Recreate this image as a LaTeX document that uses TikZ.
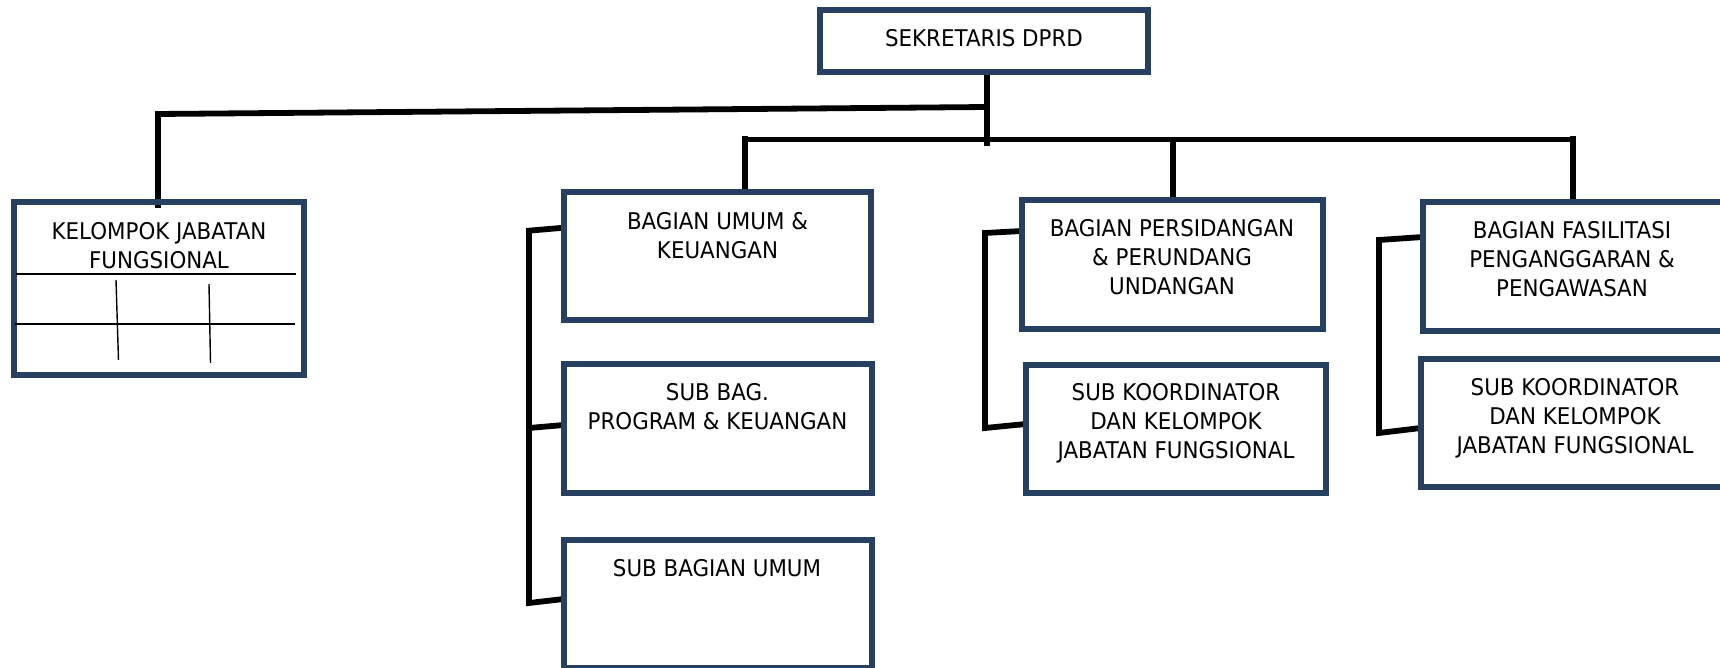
\documentclass[tikz,border=0pt]{standalone}
\usepackage{fontspec}
\setmainfont[FakeStretch=0.93]{DejaVu Sans}
\pgfdeclarelayer{background}
\pgfsetlayers{background,main}
\definecolor{boxblue}{RGB}{37,64,97}
\tikzset{
  orgbox/.style={draw=boxblue, line width=2.8pt, inner sep=0pt, outer sep=0pt, rectangle},
  conn/.style={draw=black, line width=2.9pt, line join=miter},
  thinline/.style={draw=black, line width=0.7pt},
  lbl/.style={anchor=north, inner sep=0pt, outer sep=0pt, align=center, font=\fontsize{11.5}{14.5}\selectfont}
}
\begin{document}
\begin{tikzpicture}[x=0.5pt,y=-0.5pt]
\useasboundingbox (0,0) rectangle (1720,668);
% boxes
\node[orgbox, minimum width=164.2pt, minimum height=31.2pt] (sek) at (984,41) {};
\node[orgbox, minimum width=145.2pt, minimum height=86.7pt] (kel) at (159,288.5) {};
\node[orgbox, minimum width=153.7pt, minimum height=64.2pt] (bum) at (717.5,256) {};
\node[orgbox, minimum width=154.2pt, minimum height=64.7pt] (sbp) at (718,428.5) {};
\node[orgbox, minimum width=154.2pt, minimum height=64.2pt] (sbu) at (718,604) {};
\node[orgbox, minimum width=150.7pt, minimum height=64.7pt] (per) at (1172.5,264.5) {};
\node[orgbox, minimum width=150.2pt, minimum height=64.2pt] (sk1) at (1176,429) {};
\node[orgbox, minimum width=151.2pt, minimum height=64.7pt] (fas) at (1574,266.5) {};
\node[orgbox, minimum width=152.2pt, minimum height=64.2pt] (sk2) at (1573,423) {};
% texts
\node[lbl] (sek-t) at (984,29) {SEKRETARIS DPRD};
\node[lbl] (kel-t) at (159,222) {KELOMPOK JABATAN\\FUNGSIONAL};
\node[lbl] (bum-t) at (717.5,212) {BAGIAN UMUM \&\\KEUANGAN};
\node[lbl] (sbp-t) at (717.5,383) {SUB BAG.\\PROGRAM \& KEUANGAN};
\node[lbl] (sbu-t) at (717,559) {SUB BAGIAN UMUM};
\node[lbl] (per-t) at (1172,219) {BAGIAN PERSIDANGAN\\\& PERUNDANG\\UNDANGAN};
\node[lbl] (sk1-t) at (1176,383) {SUB KOORDINATOR\\DAN KELOMPOK\\JABATAN FUNGSIONAL};
\node[lbl] (fas-t) at (1572,221) {BAGIAN FASILITASI\\PENGANGGARAN \&\\PENGAWASAN};
\node[lbl] (sk2-t) at (1575,378) {SUB KOORDINATOR\\DAN KELOMPOK\\JABATAN FUNGSIONAL};
% table lines inside KELOMPOK box
\draw[thinline] (16,274) -- (296,274);
\draw[thinline] (15,324) -- (295,324);
\draw[thinline] (116,280) -- (118.5,360);
\draw[thinline] (209,284) -- (210.5,363);
% connectors
\coordinate (j1) at (987,146);
\coordinate (u1) at (987,107);
\coordinate (u2) at (158,114);
\coordinate (l1) at (745,139.5);
\coordinate (l2) at (1173,139.5);
\coordinate (l3) at (1573,139.5);
\begin{pgfonlayer}{background}
\draw[conn] (sek.south -| j1) -- (j1);
\draw[conn] (u1) -- (u2) -- ([yshift=-3pt]u2 |- kel.north);
\draw[conn] ([yshift=1.5pt]l1) -- (l1) -- (l3) -- ([yshift=1.5pt]l3);
\draw[conn] (l1) -- (l1 |- bum.north);
\draw[conn] (l2) -- (l2 |- per.north);
\draw[conn] (l3) -- (l3 |- fas.north);
% brackets
\draw[conn] (bum.west |- 0,227.7) -- (529,230.7) -- (529,603) -- (sbu.west |- 0,599);
\draw[conn] (529,428) -- (sbp.west |- 0,425);
\draw[conn] (per.west |- 0,231) -- (985,233) -- (985,428) -- (sk1.west |- 0,424);
\draw[conn] (fas.west |- 0,237) -- (1379,240) -- (1379,433) -- (sk2.west |- 0,428);
\end{pgfonlayer}
\end{tikzpicture}
\end{document}
